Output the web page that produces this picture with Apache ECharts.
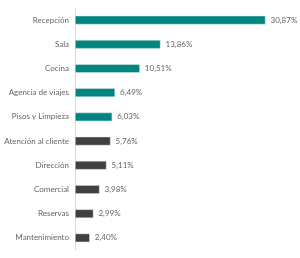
<!DOCTYPE html>
<html><head><meta charset="utf-8">
<script src="https://cdn.jsdelivr.net/npm/echarts@6/dist/echarts.min.js"></script>
<style>html,body{margin:0;padding:0;background:#fff}#c{width:300px;height:258px}</style>
</head><body><div id="c"></div>
<script>
const categories = ["Recepción","Sala","Cocina","Agencia de viajes","Pisos y Limpieza","Atención al cliente","Dirección","Comercial","Reservas","Mantenimiento"];
const values = [30.87,13.86,10.51,6.49,6.03,5.76,5.11,3.98,2.99,2.40];
const highlightCount = 5;
const colorTeal = "#00857F";
const colorGray = "#404040";

const chart = echarts.init(document.getElementById('c'), null, {renderer:'canvas'});
chart.setOption({
  animation:false,
  grid:{left:75, right:9, top:8, bottom:8},
  xAxis:{type:'value', min:0, max:35, show:false},
  yAxis:{type:'category', inverse:true, data:categories,
    axisLine:{show:true, lineStyle:{color:'#D9D9D9', width:1}},
    axisTick:{show:false},
    axisLabel:{color:'#666666', fontSize:8, fontFamily:'Lato, sans-serif', margin:6}
  },
  series:[{type:'bar', barCategoryGap:'64%',
    data: values.map((v,i)=>({value:v, itemStyle:{color: i<highlightCount?colorTeal:colorGray, borderColor:'#E8F1F0', borderWidth:0.5}})),
    label:{show:true, position:'right', distance:5, color:'#666666', fontSize:8, fontFamily:'Lato, sans-serif',
      formatter:p=>p.value.toFixed(2).replace('.',',')+'%'}
  }]
});
</script></body></html>
